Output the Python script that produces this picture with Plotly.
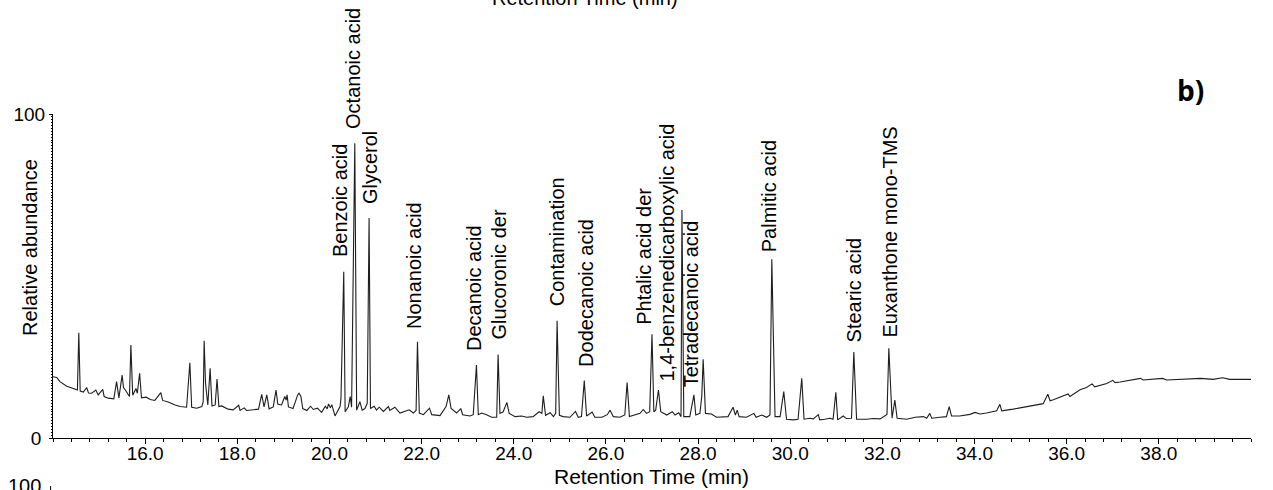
import plotly.graph_objects as go

# Total ion chromatogram (retention time in min, relative abundance in %)
rt = [
    14.00, 14.08, 14.15, 14.30, 14.44, 14.53, 14.56, 14.59, 14.66, 14.73,
    14.77, 14.84, 14.93, 14.98, 15.08, 15.11, 15.20, 15.32, 15.38, 15.43,
    15.50, 15.53, 15.57, 15.61, 15.66, 15.69, 15.73, 15.80, 15.83, 15.88,
    15.92, 16.02, 16.11, 16.21, 16.34, 16.38, 16.50, 16.65, 16.76, 16.90,
    16.97, 17.01, 17.12, 17.23, 17.26, 17.28, 17.31, 17.36, 17.41, 17.45,
    17.52, 17.56, 17.60, 17.66, 17.71, 17.80, 17.91, 18.03, 18.06, 18.15,
    18.20, 18.35, 18.46, 18.53, 18.58, 18.64, 18.69, 18.78, 18.84, 18.88,
    18.96, 19.03, 19.06, 19.08, 19.11, 19.21, 19.31, 19.34, 19.38, 19.42,
    19.51, 19.59, 19.65, 19.74, 19.83, 19.91, 19.95, 19.98, 20.02, 20.05,
    20.12, 20.23, 20.25, 20.31, 20.34, 20.41, 20.45, 20.48, 20.55, 20.59,
    20.66, 20.71, 20.77, 20.82, 20.86, 20.89, 20.97, 21.02, 21.08, 21.17,
    21.28, 21.31, 21.42, 21.53, 21.64, 21.73, 21.82, 21.88, 21.91, 21.95,
    22.04, 22.17, 22.22, 22.40, 22.53, 22.59, 22.64, 22.71, 22.76, 22.85,
    22.89, 23.05, 23.12, 23.19, 23.23, 23.30, 23.41, 23.52, 23.63, 23.66,
    23.70, 23.77, 23.85, 23.90, 24.03, 24.17, 24.28, 24.42, 24.55, 24.61,
    24.64, 24.69, 24.79, 24.86, 24.91, 24.94, 24.99, 25.07, 25.22, 25.34,
    25.40, 25.47, 25.53, 25.58, 25.70, 25.76, 25.91, 26.03, 26.09, 26.16,
    26.30, 26.41, 26.46, 26.51, 26.63, 26.74, 26.81, 26.88, 26.95, 27.00,
    27.04, 27.08, 27.14, 27.19, 27.32, 27.44, 27.50, 27.58, 27.63, 27.65,
    27.69, 27.82, 27.91, 27.95, 28.04, 28.08, 28.11, 28.16, 28.29, 28.40,
    28.65, 28.76, 28.81, 28.85, 28.89, 29.05, 29.21, 29.26, 29.38, 29.49,
    29.56, 29.60, 29.67, 29.78, 29.86, 29.92, 30.07, 30.17, 30.25, 30.30,
    30.43, 30.50, 30.61, 30.64, 30.75, 30.86, 30.93, 30.99, 31.03, 31.15,
    31.22, 31.33, 31.38, 31.44, 31.66, 31.80, 31.95, 32.06, 32.10, 32.14,
    32.21, 32.27, 32.32, 32.53, 32.71, 32.89, 32.96, 33.03, 33.07, 33.25,
    33.39, 33.45, 33.50, 33.68, 33.90, 34.01, 34.12, 34.26, 34.48, 34.55,
    34.59, 34.84, 35.09, 35.27, 35.49, 35.59, 35.64, 35.71, 35.85, 36.03,
    36.07, 36.29, 36.43, 36.55, 36.61, 36.72, 36.87, 37.00, 37.05, 37.16,
    37.37, 37.60, 37.66, 37.88, 38.08, 38.17, 38.46, 38.68, 38.91, 39.18,
    39.38, 39.54, 39.75, 40.00,
]
abundance = [
    18.9, 18.7, 17.4, 16.0, 15.3, 14.8, 32.5, 14.5, 14.2, 15.6,
    13.9, 13.8, 14.8, 13.3, 15.0, 12.8, 12.3, 12.1, 17.4, 12.4,
    19.4, 15.6, 14.8, 13.8, 12.8, 28.7, 13.2, 15.3, 13.8, 20.0,
    12.4, 12.6, 11.9, 11.6, 14.0, 11.6, 11.1, 10.2, 9.7, 9.5,
    23.2, 9.5, 9.2, 9.7, 11.2, 30.0, 17.0, 10.2, 21.5, 9.9,
    10.2, 18.2, 9.7, 9.9, 9.5, 8.9, 8.7, 10.1, 8.5, 9.3,
    8.5, 8.8, 8.9, 13.5, 9.6, 13.3, 9.0, 9.6, 14.8, 10.4,
    10.2, 12.8, 11.7, 13.3, 9.6, 9.1, 13.3, 13.8, 12.8, 9.1,
    8.5, 9.8, 8.8, 9.2, 7.9, 9.8, 9.0, 10.5, 9.3, 10.3,
    6.8, 9.7, 12.3, 51.3, 8.1, 9.6, 12.8, 9.5, 91.0, 8.6,
    11.2, 8.6, 9.1, 10.7, 67.9, 9.1, 9.8, 8.6, 9.5, 8.2,
    9.7, 8.5, 9.5, 7.7, 8.2, 8.7, 7.7, 8.5, 29.7, 7.7,
    7.2, 9.2, 7.2, 6.9, 9.7, 13.3, 9.1, 8.2, 7.7, 9.1,
    7.2, 6.8, 7.2, 22.5, 7.2, 7.7, 7.2, 6.4, 6.4, 25.8,
    7.6, 8.1, 11.0, 7.6, 6.6, 6.8, 6.4, 6.6, 8.1, 7.6,
    13.0, 7.0, 7.8, 6.6, 7.6, 36.2, 7.0, 6.6, 6.4, 8.2,
    6.4, 6.6, 17.7, 6.8, 8.0, 6.4, 6.4, 7.2, 8.6, 6.6,
    6.4, 7.1, 17.1, 6.6, 7.1, 7.6, 8.8, 7.6, 8.1, 32.0,
    8.1, 8.6, 14.8, 8.1, 7.1, 8.1, 7.1, 7.8, 6.6, 70.4,
    6.6, 6.6, 13.3, 7.1, 7.6, 12.8, 24.3, 7.6, 7.4, 6.4,
    6.6, 9.5, 7.1, 8.6, 6.6, 6.4, 7.6, 6.4, 7.1, 6.4,
    7.1, 55.2, 6.6, 6.6, 14.3, 5.8, 5.6, 5.8, 18.4, 5.8,
    6.1, 5.9, 7.2, 5.6, 5.8, 6.1, 5.8, 14.1, 5.6, 6.8,
    6.0, 6.1, 26.5, 5.8, 5.8, 6.0, 5.9, 6.8, 7.3, 27.7,
    6.1, 11.7, 6.1, 5.8, 6.4, 6.6, 6.1, 7.6, 6.1, 6.4,
    6.6, 9.7, 6.8, 6.8, 7.3, 7.9, 7.4, 7.7, 8.4, 10.4,
    8.4, 8.9, 9.6, 9.9, 10.6, 13.5, 11.5, 11.8, 12.6, 13.6,
    12.8, 14.9, 15.6, 16.7, 15.8, 16.3, 16.8, 17.8, 17.1, 17.3,
    17.8, 18.4, 17.9, 18.1, 18.4, 17.9, 18.1, 18.1, 18.4, 18.1,
    18.6, 18.1, 18.1, 18.1,
]

# Identified compounds and the retention time of the peak each one marks
compounds = [
    "Benzoic acid", "Octanoic acid", "Glycerol", "Nonanoic acid",
    "Decanoic acid", "Glucoronic der", "Contamination", "Dodecanoic acid",
    "Phtalic acid der", "1,4-benzenedicarboxylic acid", "Tetradecanoic acid",
    "Palmitic acid", "Stearic acid", "Euxanthone mono-TMS",
]
compound_rt = [20.31, 20.55, 20.86, 21.91, 23.19, 23.66, 24.94, 25.53,
               27.00, 27.14, 27.91, 29.60, 31.38, 32.14]

# x tick labels
x_tick_vals = [16, 18, 20, 22, 24, 26, 28, 30, 32, 34, 36, 38]
x_tick_text = ["16.0", "18.0", "20.0", "22.0", "24.0", "26.0",
               "28.0", "30.0", "32.0", "34.0", "36.0", "38.0"]

# ---- layout geometry (pixels) ----
W, H = 1273, 490
L, R, T, B = 53, 22, 114, 52
PW, PH = W - L - R, H - T - B
FONT = "Liberation Sans, Arial, sans-serif"


def px(xp):
    return (xp - L) / PW


def py(yp):
    return (H - B - yp) / PH


fig = go.Figure()
fig.add_trace(go.Scatter(
    x=rt, y=abundance, mode="lines",
    line=dict(color="#1e1e1e", width=1.1),
    hoverinfo="skip", showlegend=False,
))

# label offsets: (x shift px, gap above apex px)
label_offsets = [(-3, 13), (-2.5, 12), (0.5, 12), (-3.7, 11), (-2.6, 12),
                 (1, 13), (0, 12), (1, 12), (-8, 7), (9, 7), (-3, 6),
                 (-2.7, 5), (0, 8), (1, 9)]

annotations = []
for name, t, (dx, gap) in zip(compounds, compound_rt, label_offsets):
    apex = abundance[rt.index(t)]
    annotations.append(dict(
        x=t, y=apex, xref="x", yref="y", text=name, textangle=-90,
        showarrow=False, xanchor="center", yanchor="bottom",
        xshift=dx, yshift=gap, font=dict(family=FONT, size=20, color="black"),
    ))

# axis titles and panel letter
annotations += [
    dict(x=px(30), y=py(248), xref="paper", yref="paper",
         text="Relative abundance", textangle=-90, showarrow=False,
         xanchor="center", yanchor="middle",
         font=dict(family=FONT, size=20, color="black")),
    dict(x=px(651), y=py(476), xref="paper", yref="paper",
         text="Retention Time (min)", showarrow=False,
         xanchor="center", yanchor="middle",
         font=dict(family=FONT, size=21, color="black")),
    dict(x=px(1190), y=py(90), xref="paper", yref="paper",
         text="<b>b)</b>", showarrow=False,
         xanchor="center", yanchor="middle",
         font=dict(family="Open Sans, Lato, sans-serif", size=28, color="black")),
    # neighbouring panels cut at the page edges
    dict(x=px(585), y=py(-2), xref="paper", yref="paper",
         text="Retention Time (min)", showarrow=False,
         xanchor="center", yanchor="middle",
         font=dict(family=FONT, size=20, color="black")),
    dict(x=px(43), y=py(486), xref="paper", yref="paper",
         text="100", showarrow=False,
         xanchor="right", yanchor="middle",
         font=dict(family=FONT, size=20, color="black")),
]

minor_x = [round(14 + 0.4 * k, 1) for k in range(66)]
minor_y = [round(100 * k / 112, 3) for k in range(113)]
major_y = [round(100 * k / 14, 3) for k in range(15)]

fig.update_layout(
    width=W, height=H, autosize=False,
    margin=dict(l=L, r=R, t=T, b=B, pad=0),
    paper_bgcolor="white", plot_bgcolor="white",
    annotations=annotations,
    shapes=[dict(type="line", xref="paper", yref="paper",
                 x0=-0.002, x1=-0.002, y0=py(486), y1=py(495),
                 line=dict(color="black", width=1))],
    xaxis=dict(
        range=[14, 40], showgrid=False, zeroline=False,
        showline=True, linecolor="black", linewidth=1,
        ticks="outside", ticklen=5, tickcolor="black", tickwidth=1,
        tickmode="array", tickvals=x_tick_vals + [40], ticktext=x_tick_text + [""],
        tickfont=dict(family=FONT, size=19, color="black"),
        ticklabelposition="outside", ticklabelstandoff=-7,
        minor=dict(tickmode="array", tickvals=minor_x, ticks="outside",
                   ticklen=3, tickcolor="black", tickwidth=1, showgrid=False),
    ),
    yaxis=dict(
        range=[0, 100], showgrid=False, zeroline=False,
        showline=True, linecolor="black", linewidth=1,
        ticks="outside", ticklen=3, tickcolor="black", tickwidth=1,
        tickmode="array", tickvals=major_y,
        ticktext=["0\u2009"] + [""] * 13 + ["100"],
        tickfont=dict(family=FONT, size=19, color="black"),
        minor=dict(tickmode="array", tickvals=minor_y, ticks="outside",
                   ticklen=1.5, tickcolor="black", tickwidth=1, showgrid=False),
    ),
)

fig.write_html("out.html")
